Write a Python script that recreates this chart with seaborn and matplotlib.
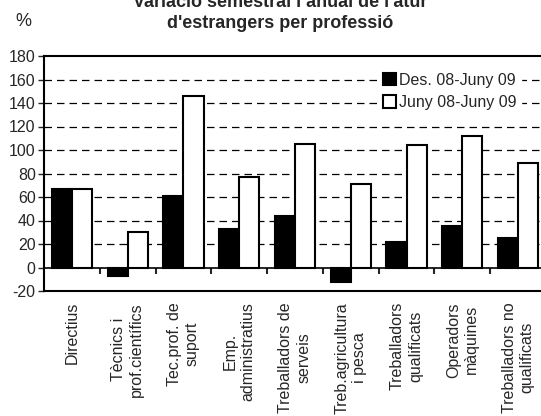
import matplotlib
matplotlib.use("Agg")
import matplotlib.pyplot as plt
import seaborn as sns
import pandas as pd

categories = ["Directius", "Tècnics i\nprof.científics", "Tec.prof. de\nsuport",
              "Emp.\nadministratius", "Treballadors de\nserveis", "Treb.agricultura\ni pesca",
              "Treballadors\nqualificats", "Operadors\nmàquines", "Treballadors no\nqualificats"]
series_names = ["Des. 08-Juny 09", "Juny 08-Juny 09"]
des08_juny09 = [67, -7, 61, 33, 44, -12, 22, 35, 25]
juny08_juny09 = [67, 30, 146, 77, 105, 71, 104, 112, 89]
yticks = list(range(-20, 181, 20))

df = pd.DataFrame({
    "cat": categories * 2,
    "val": des08_juny09 + juny08_juny09,
    "series": [series_names[0]] * len(categories) + [series_names[1]] * len(categories),
})

sns.set_style("white")
plt.rcParams["font.family"] = ["Liberation Sans", "DejaVu Sans"]

fig = plt.figure(figsize=(5.41, 4.16), dpi=100)
ax = fig.add_axes([44 / 541, 1 - 291 / 416, 502 / 541, 235 / 416])

sns.barplot(data=df, x="cat", y="val", hue="series", palette=["black", "white"],
            edgecolor="black", linewidth=1.5, width=0.72, dodge=True, ax=ax,
            saturation=1, zorder=3)

ax.set_xlim(-0.5, len(categories) - 0.5)
ax.set_ylim(-20, 180)
ax.set_yticks(yticks)
ax.set_yticklabels([str(v) for v in yticks], fontsize=11.5)
ax.tick_params(axis="y", direction="out", length=4, width=1, pad=2, left=True)
ax.set_xticks(range(len(categories)))
ax.set_xticklabels(categories, rotation=90, fontsize=11.5, va="top", ha="center",
                   multialignment="center", linespacing=1.25)
ax.tick_params(axis="x", length=0, pad=8)
ax.set_xlabel("")
ax.set_ylabel("")

for v in yticks[2:-1]:
    ax.axhline(v, color="black", linestyle=(0, (6, 4)), linewidth=0.9, zorder=1)
ax.axhline(0, color="black", linewidth=1.2, zorder=4)

sec = ax.secondary_xaxis((0 - (-20)) / 200)
sec.set_xticks([i + 0.5 for i in range(len(categories) - 1)])
sec.set_xticklabels([])
sec.tick_params(axis="x", direction="out", length=4, width=1.5)
sec.spines["bottom"].set_visible(False)

for s in ax.spines.values():
    s.set_visible(True)
    s.set_color("black")
    s.set_linewidth(1.5)

leg = ax.legend(loc="upper left", bbox_to_anchor=(0.665, 0.95),
                frameon=True, fontsize=11.5, handlelength=0.85, handleheight=0.85,
                handletextpad=0.15, labelspacing=0.45, borderpad=0.3, borderaxespad=0)
leg.get_frame().set_edgecolor("white")
leg.get_frame().set_facecolor("white")
leg.get_frame().set_alpha(1)
leg.set_zorder(5)
for h in leg.legend_handles:
    h.set_edgecolor("black")
    h.set_linewidth(1.5)

fig.text(23 / 541, 1 - 21 / 416, "%", fontsize=13, ha="center", va="center")
fig.text(280 / 541, 1 - 13 / 416, "Variació semestral i anual de l'atur\nd'estrangers per professió",
         fontsize=13, fontweight="bold", ha="center", va="center", linespacing=1.3)

fig.savefig("out.png", dpi=100)
